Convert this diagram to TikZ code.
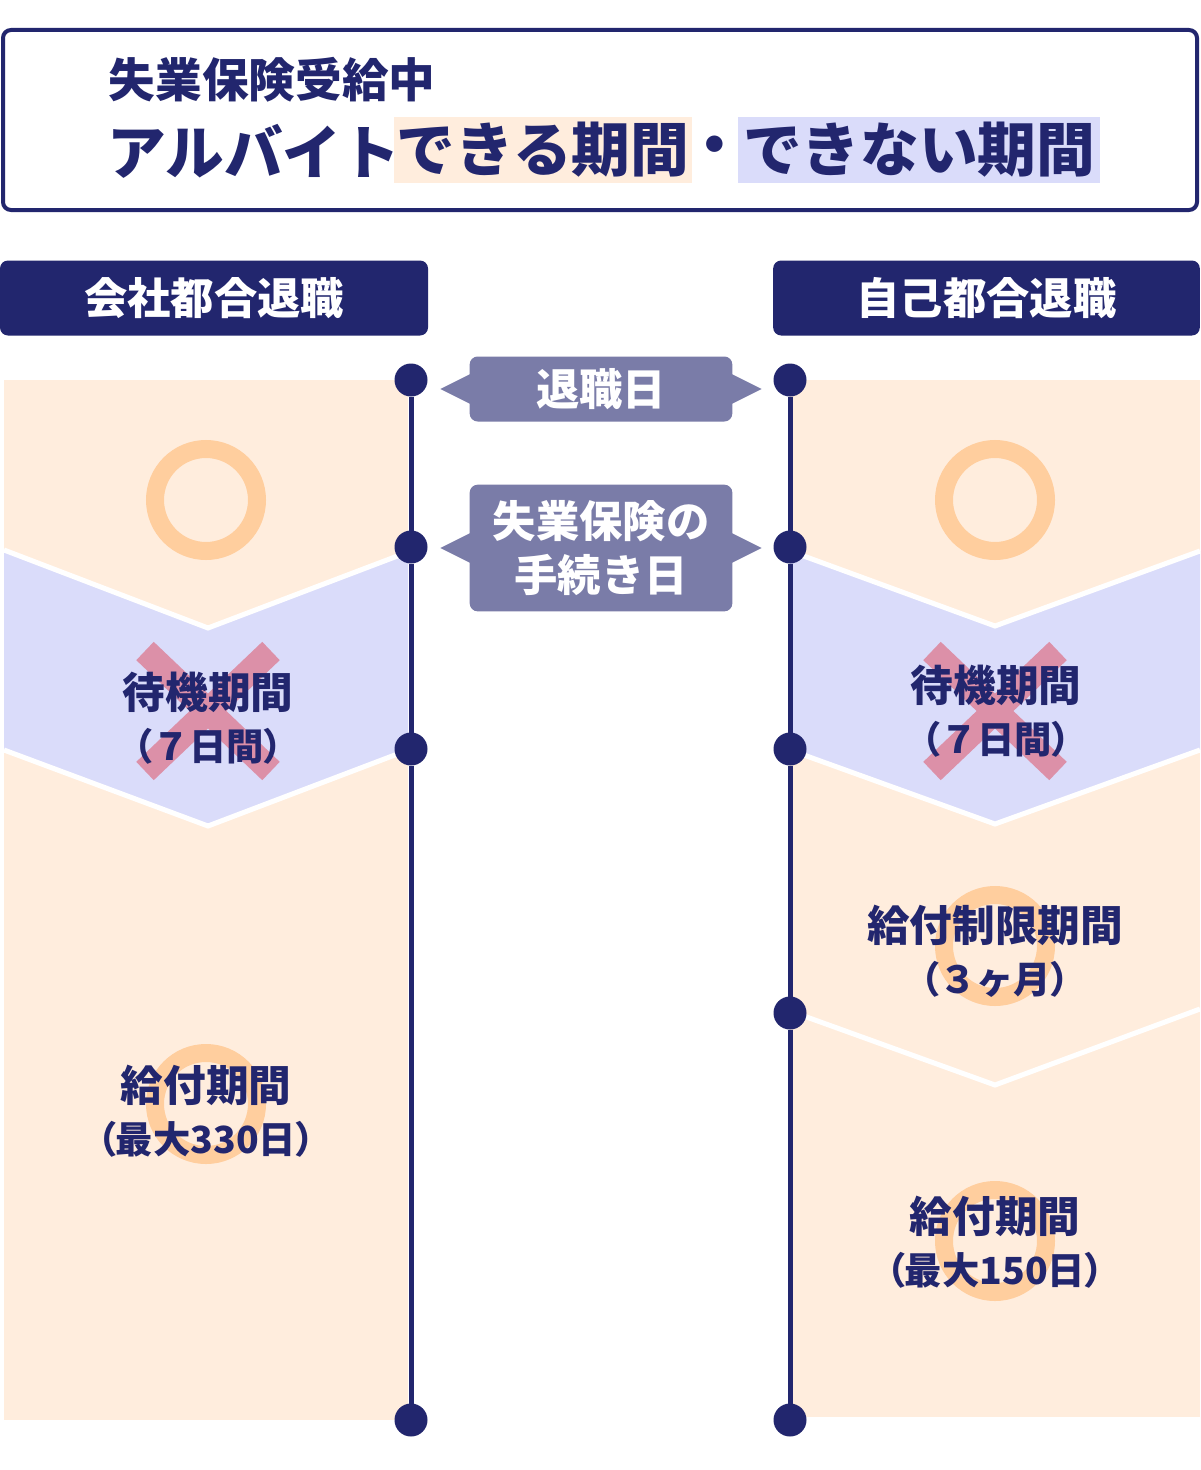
\documentclass[tikz,border=0pt]{standalone}
\usepackage{fontspec}
\setmainfont{Noto Sans CJK JP}
\newfontfamily\jpp{Noto Sans CJK JP}[RawFeature=+palt]
\usepackage{xcolor}
\definecolor{navy}{RGB}{34,38,110}
\definecolor{peach}{RGB}{255,237,221}
\definecolor{lav}{RGB}{218,220,250}
\definecolor{ringcol}{RGB}{255,206,158}
\definecolor{crosscol}{RGB}{220,144,168}
\definecolor{tagcol}{RGB}{122,124,168}
\usepackage{tikz}
\tikzset{
dot/.style = {circle, fill=navy, minimum size=#1,
              inner sep=0pt, outer sep=0pt},
dot/.default = 24.75pt % 33px circle
}
\tikzset{
headbox/.style = {rectangle, rounded corners=6pt, fill=navy, text=white,
  minimum height=56.25pt, inner sep=0pt, font=\fontsize{32.5}{32.5}\selectfont\bfseries},
tagbox/.style = {rectangle, rounded corners=6pt, fill=tagcol, text=white, align=center,
  minimum width=197pt, inner sep=0pt, font=\fontsize{32.5}{41}\selectfont\bfseries},
hlbox/.style = {rectangle, inner sep=0pt, minimum height=49.5pt, text=navy,
  font=\fontsize{44}{44}\selectfont\bfseries},
ringmark/.style = {circle, draw=ringcol, line width=13.5pt, minimum size=76.5pt, inner sep=0pt},
crossmark/.style = {draw=crosscol, line width=19pt},
ptext/.style = {align=center, text=navy, font=\fontsize{32}{39}\selectfont\bfseries},
tline/.style = {draw=navy, line width=3.75pt},
cutline/.style = {draw=white, line width=3.75pt}
}
\newcommand{\subline}[1]{{\bfseries\fontsize{28}{28}\selectfont #1}}
\newcommand{\lp}{{\jpp （}}
\newcommand{\rp}{{\jpp ）}}

\begin{document}
\begin{tikzpicture}[x=0.75pt, y=-0.75pt]
\useasboundingbox (0,0) rectangle (1200,1470);
\fill[white] (0,0) rectangle (1200,1470);

% title
\node[draw=navy, line width=3pt, rounded corners=6pt, minimum width=895.5pt,
  minimum height=135pt, inner sep=0pt] (titlebox) at (600,120) {};
\node[anchor=west, text=navy, font=\fontsize{35}{35}\selectfont\bfseries] (during) at (104,80) {失業保険受給中};
\node[anchor=west, inner sep=0pt, text=navy, font=\fontsize{44}{44}\selectfont\bfseries] (arbeit) at (107,151) {アルバイト};
\node[hlbox, fill=peach, minimum width=223.5pt] (canwork) at (543,150) {できる期間};
\node[hlbox] (sep) at (715,151) {\jpp ・};
\node[hlbox, fill=lav, minimum width=271.5pt] (cantwork) at (919,150) {できない期間};

\node[headbox, minimum width=321pt] (company) at (214,298) {会社都合退職};
\node[headbox, minimum width=320pt] (self) at (986.5,298) {自己都合退職};

% panels
\fill[peach] (4,380) rectangle (408,1420);
\fill[peach] (790,380) rectangle (1200,1417);
\fill[lav] (4,550) -- (208,628) -- (408,552) -- (408,750) -- (208,826) -- (4,750) -- cycle;
\fill[lav] (790,551) -- (995,626) -- (1200,551) -- (1200,750) -- (995,824) -- (790,750) -- cycle;
\draw[cutline] (4,550) -- (208,628) -- (408,552);
\draw[cutline] (4,750) -- (208,826) -- (408,750);
\draw[cutline] (790,551) -- (995,626) -- (1200,551);
\draw[cutline] (790,750) -- (995,824) -- (1200,750);
\draw[cutline] (790,1011) -- (995,1085) -- (1200,1009);

\node[ringmark] (okA) at (206,500) {};
\node[ringmark] (okB) at (995,500) {};
\node[ringmark] (payA) at (206,1104) {};
\node[ringmark] (limitB) at (995,946) {};
\node[ringmark] (payB) at (995,1241) {};

\draw[crossmark] (145,651) -- (271,771) (271,651) -- (145,771);
\draw[crossmark] (932,651) -- (1058,771) (1058,651) -- (932,771);

\node[ptext] (waitA) at (208,718) {待機期間\\\subline{\lp ７日間\rp}};
\node[ptext] (waitB) at (996,711) {待機期間\\\subline{\lp ７日間\rp}};
\node[ptext] (limitBtxt) at (995,951) {給付制限期間\\\subline{\lp ３ヶ月\rp}};
\node[ptext] (payAtxt) at (206,1111) {給付期間\\\subline{\lp 最大330日\rp}};
\node[ptext] (payBtxt) at (995,1242) {給付期間\\\subline{\lp 最大150日\rp}};

% timelines
\node[dot] (a1) at (411,380) {};
\node[dot] (a2) at (411,547) {};
\node[dot] (a3) at (411,749) {};
\node[dot] (a4) at (411,1420) {};
\node[dot] (b1) at (790,380) {};
\node[dot] (b2) at (790,547) {};
\node[dot] (b3) at (790,749) {};
\node[dot] (b4) at (790,1013) {};
\node[dot] (b5) at (790,1420) {};
\draw[tline] (a1) -- (a2) -- (a3) -- (a4);
\draw[tline] (b1) -- (b2) -- (b3) -- (b4) -- (b5);

% day tags
\node[tagbox, minimum height=48.75pt] (quit) at (601,389) {退職日};
\node[tagbox, minimum height=95pt] (apply) at (601,548) {失業保険の\\手続き日};
\fill[tagcol] (quit.west) ++(1,-15) -- ++(-30,15) -- ++(30,15) -- cycle;
\fill[tagcol] (quit.east) ++(-1,-15) -- ++(30,15) -- ++(-30,15) -- cycle;
\fill[tagcol] (apply.west) ++(1,-15) -- ++(-30,15) -- ++(30,15) -- cycle;
\fill[tagcol] (apply.east) ++(-1,-15) -- ++(30,15) -- ++(-30,15) -- cycle;
\end{tikzpicture}
\end{document}
